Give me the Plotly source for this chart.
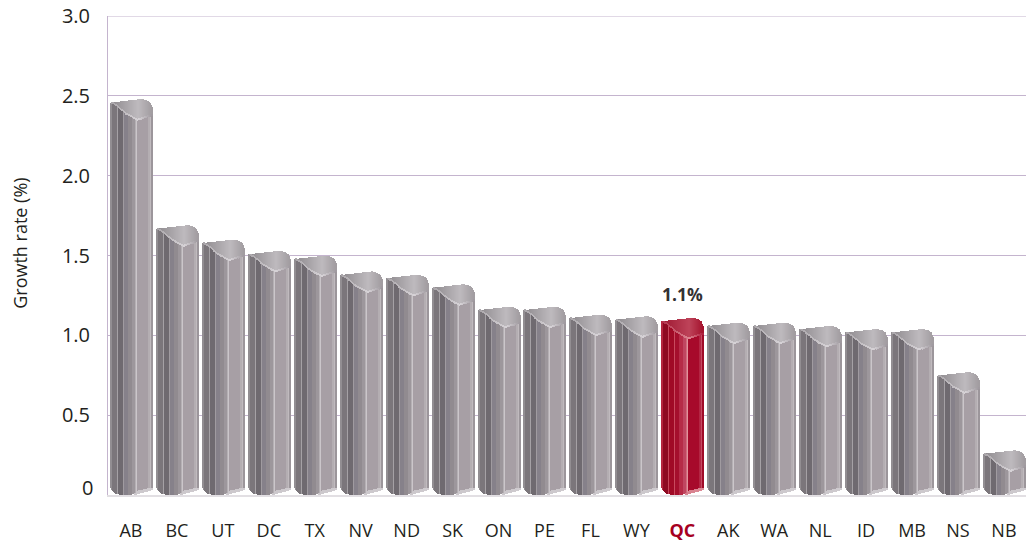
import numpy as np
import plotly.graph_objects as go

# --- data -----------------------------------------------------------------
categories = ["AB", "BC", "UT", "DC", "TX", "NV", "ND", "SK", "ON", "PE",
              "FL", "WY", "QC", "AK", "WA", "NL", "ID", "MB", "NS", "NB"]
growth = [2.48, 1.69, 1.60, 1.53, 1.50, 1.40, 1.38, 1.32, 1.18, 1.18,
          1.13, 1.12, 1.11, 1.08, 1.08, 1.06, 1.04, 1.04, 0.77, 0.28]
highlight = "QC"
y_ticks = [0.5, 1.0, 1.5, 2.0, 2.5, 3.0]
y_ticktext = ["0.5", "1.0", "1.5", "2.0", "2.5", "3.0"]

# --- geometry of the pseudo-3D bar, in screen pixels ----------------------
PLOT_H = 479.4
PITCH = 45.95
PX = 3.0 / PLOT_H
BAR_W = 42
U = np.arange(BAR_W)

cap_top = np.interp(U, [0, 31, 36, 39, 41], [3.5, 0, 1.5, 3.5, 8])
body_top = np.interp(U, [0, 7, 15, 22, 27, 41], [3.5, 8, 15, 19, 21.5, 17])
foot = np.interp(U, [0, 1, 2, 3, 4, 6, 9, 15, 22, 27, 34, 41],
                 [7.5, 5.5, 4, 3, 2, 1, .5, 0, .6, 1, 2.8, 4.8])
wedge = np.where(U >= 24, np.interp(U, [24, 27, 41], [0.3, 3.5, 2.6]), 0.0)


def runs(spec):
    out = []
    for n, c in spec:
        out += [c] * n
    return out


grey_body = runs([(2, "#928e92"), (5, "#7b767b"), (1, "#a5a1a5"), (5, "#6f6a70"),
                  (1, "#a09ba0"), (4, "#86818a"), (4, "#918b90"), (3, "#9d979c"),
                  (1, "#b5b0b4"), (1, "#cbc6ca"), (11, "#a79fa5"), (2, "#b4aeb2"),
                  (1, "#c0babe"), (1, "#9c969b")])
red_body = runs([(2, "#b4263f"), (5, "#8e0a22"), (1, "#c6475b"), (5, "#a00a26"),
                 (1, "#c94a5e"), (4, "#a50f2d"), (4, "#b62b47"), (3, "#c04560"),
                 (1, "#cf6a7c"), (1, "#e2929c"), (11, "#a70a2b"), (2, "#b32643"),
                 (1, "#c54a62"), (1, "#a00a28")])


def ramp(a, b, n):
    a = np.array([int(a[i:i + 2], 16) for i in (1, 3, 5)])
    b = np.array([int(b[i:i + 2], 16) for i in (1, 3, 5)])
    return ["#%02x%02x%02x" % tuple(int(round(v)) for v in a + (b - a) * t)
            for t in np.linspace(0, 1, n)]


grey_cap = ramp("#8d898d", "#bdb9bd", 28) + ramp("#bdb9bd", "#a29da1", 14)
red_cap = ramp("#9c1630", "#bd4258", 28) + ramp("#bd4258", "#a5142f", 14)
grey_rim = ramp("#a9a5a9", "#d6d2d6", 28) + ramp("#d6d2d6", "#a09aa0", 14)
red_rim = ramp("#b0304a", "#dc8490", 28) + ramp("#dc8490", "#b02040", 14)
grey_wedge = ramp("#c6c2c6", "#cfcbcf", BAR_W)
red_wedge = ramp("#cf6a7c", "#dc8a96", BAR_W)

values = np.array(growth)
is_hi = [c == highlight for c in categories]
n = len(values)
fig = go.Figure()


def add_column(u, top, base, grey, red):
    """One 1-px column of every bar, between the data values base and top."""
    fig.add_bar(
        x=categories, y=top - base, base=base,
        offset=(u - 20.5) / PITCH, width=1.05 / PITCH,
        marker=dict(color=[red if h else grey for h in is_hi], line_width=0),
        hoverinfo="skip", showlegend=False,
    )


for u in U:
    f0 = np.full(n, foot[u] * PX)
    w = wedge[u] * PX
    add_column(u, values - body_top[u] * PX, f0 + w, grey_body[u], red_body[u])
    if w > 0:
        add_column(u, f0 + w, f0, grey_wedge[u], red_wedge[u])
    span = body_top[u] - cap_top[u]
    if span > 0.5:
        add_column(u, values - cap_top[u] * PX, values - body_top[u] * PX, grey_cap[u], red_cap[u])
        rim = min(2.0, span)
        add_column(u, values - (body_top[u] - rim) * PX, values - body_top[u] * PX, grey_rim[u], red_rim[u])

TEXT = "#231f20"
FONT = "Open Sans"
GRID = "#c4b4ce"
fig.update_layout(
    width=1026, height=541, autosize=False,
    margin=dict(l=108, r=0, t=16, b=45.6),
    paper_bgcolor="white", plot_bgcolor="white",
    barmode="overlay", bargap=0,
    font=dict(family=FONT, size=18, color=TEXT),
    xaxis=dict(
        type="category", range=[-0.5, 19.48],
        tickmode="array", tickvals=categories,
        ticktext=[f'<b><span style="color:#a6001f">{c}</span></b>' if c == highlight else c
                  for c in categories],
        showgrid=False, showline=True, linecolor="#e2dfe3", linewidth=2,
        ticks="outside", ticklen=18, tickcolor="rgba(0,0,0,0)",
        tickfont=dict(size=18), zeroline=False,
    ),
    yaxis=dict(
        range=[0, 3], tickmode="array", tickvals=y_ticks, ticktext=y_ticktext,
        showgrid=True, gridcolor=GRID, gridwidth=1,
        showline=True, linecolor=GRID, linewidth=1,
        ticks="outside", ticklen=13, tickcolor="rgba(0,0,0,0)",
        tickfont=dict(size=20), zeroline=False,
    ),
    shapes=[dict(type="line", xref="paper", x0=0, x1=1, yref="y", y0=3, y1=3,
                 line=dict(color=GRID, width=1), layer="below")],
    annotations=[
        dict(x=0, xref="paper", xanchor="right", xshift=-13, y=0, yref="y", yanchor="middle",
             yshift=8, text="0", showarrow=False, font=dict(size=20)),
        dict(x=0, xref="paper", xshift=-88, xanchor="center", y=(495.4 - 244) * PX, yref="y",
             yanchor="middle", text="Growth rate (%)", textangle=-90, showarrow=False,
             font=dict(size=18)),
        dict(x=highlight, xref="x", y=values[categories.index(highlight)], yref="y",
             yanchor="bottom", yshift=10, text="<b>1.1%</b>", showarrow=False,
             font=dict(size=17.5, color="#333132")),
    ],
)
fig.write_html("out.html", config={"displayModeBar": False},
               post_script="document.body.style.margin='0';")
